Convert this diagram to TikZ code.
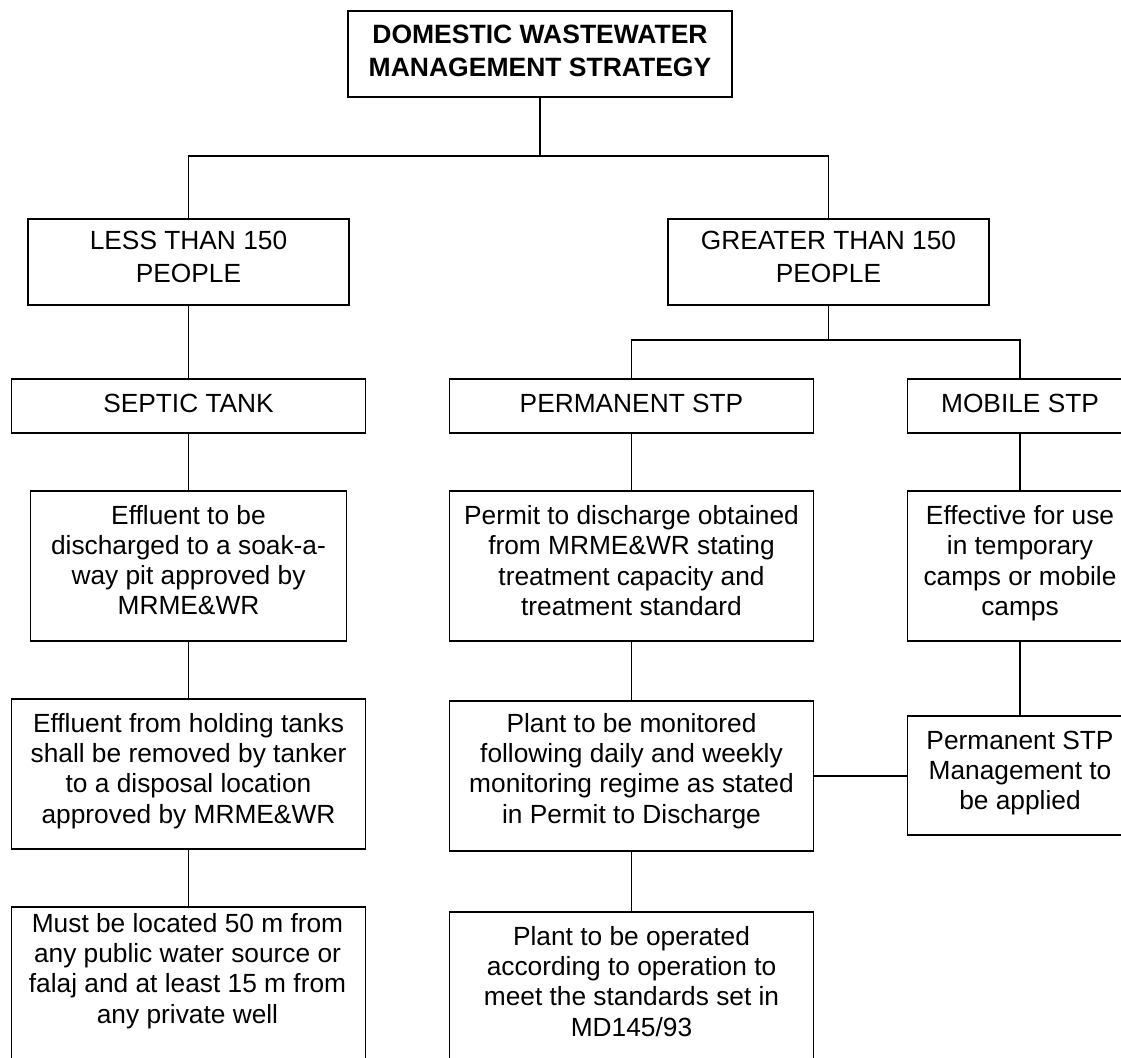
\documentclass[tikz,border=0pt]{standalone}
\usepackage{fontspec}
\setmainfont{Liberation Sans}
\newcommand\txtbody{\fontsize{26.3pt}{30.3pt}\selectfont}
\newcommand\txtcaps{\fontsize{26.3pt}{33.3pt}\selectfont}
\newcommand\txthead{\bfseries\fontsize{26.5pt}{33.6pt}\selectfont}
\tikzset{
  box/.style={draw, line width=1.6pt, inner sep=0pt, align=center,
    execute at begin node=\strut, execute at end node=\strut},
  txt/.style={inner sep=0pt, align=center,
    execute at begin node=\strut, execute at end node=\strut},
  link/.style={line width=1.6pt},
}
\begin{document}
\begin{tikzpicture}[x=1pt, y=-1pt]
  \path[use as bounding box] (0,0) rectangle (1121,1057);
  \clip (0,0) rectangle (1121,1057);

  % title
  \node[box, minimum width=384pt, minimum height=86pt] (title) at (540,54) {};
  \node[txt, font=\txthead] (title-t) at (540,55.8) {DOMESTIC WASTEWATER\\MANAGEMENT STRATEGY};

  % population split
  \node[box, font=\txtcaps, minimum width=321pt, minimum height=86pt] (less) at (188.5,262) {LESS THAN 150\\PEOPLE};
  \node[box, font=\txtcaps, minimum width=321pt, minimum height=86pt] (greater) at (828.5,262) {GREATER THAN 150\\PEOPLE};

  % treatment type
  \node[box, font=\txtbody, minimum width=354pt, minimum height=54pt] (septic) at (188.5,406) {SEPTIC TANK};
  \node[box, font=\txtbody, minimum width=364pt, minimum height=54pt] (perm) at (631.5,406) {PERMANENT STP};
  \node[box, font=\txtbody, minimum width=225pt, minimum height=54pt] (mobile) at (1020,406) {MOBILE STP};

  % first requirements
  \node[box, minimum width=316pt, minimum height=150pt] (effluent) at (188.5,566) {};
  \node[txt, font=\txtbody] (effluent-t) at (188.5,564.5) {Effluent to be\\discharged to a soak-a-\\way pit approved by\\MRME\&WR};
  \node[box, minimum width=364pt, minimum height=150pt] (permit) at (631.5,566) {};
  \node[txt, font=\txtbody] (permit-t) at (631.5,565) {Permit to discharge obtained\\from MRME\&WR stating\\treatment capacity and\\treatment standard};
  \node[box, minimum width=225pt, minimum height=150pt] (effective) at (1020,566) {};
  \node[txt, font=\txtbody] (effective-t) at (1020,565) {Effective for use\\in temporary\\camps or mobile\\camps};

  % second requirements
  \node[box, minimum width=354pt, minimum height=150pt] (holding) at (188.5,774) {};
  \node[txt, font=\txtbody] (holding-t) at (188.5,772.7) {Effluent from holding tanks\\shall be removed by tanker\\to a disposal location\\approved by MRME\&WR};
  \node[box, minimum width=364pt, minimum height=150pt] (monitored) at (631.5,776) {};
  \node[txt, font=\txtbody] (monitored-t) at (631.5,772.7) {Plant to be monitored\\following daily and weekly\\monitoring regime as stated\\in Permit to Discharge};
  \node[box, minimum width=225pt, minimum height=119pt] (mgmt) at (1020,775.5) {};
  \node[txt, font=\txtbody] (mgmt-t) at (1020,774.7) {Permanent STP\\Management to\\be applied};

  % third requirements
  \node[box, minimum width=354pt, minimum height=173pt] (must) at (188.5,993.5) {};
  \node[txt, font=\txtbody] (must-t) at (187.5,972.7) {Must be located 50 m from\\any public water source or\\falaj and at least 15 m from\\any private well};
  \node[box, minimum width=364pt, minimum height=168pt] (operated) at (631.5,996) {};
  \node[txt, font=\txtbody] (operated-t) at (631.5,985.7) {Plant to be operated\\according to operation to\\meet the standards set in\\MD145/93};

  % connectors
  \coordinate (j1) at (540,156);
  \coordinate (j2) at (828.5,340);
  \draw[link] (title.south) -- (j1);
  \draw[link] (less.north) |- (j1) -| (greater.north);
  \draw[link] (greater.south) -- (j2);
  \draw[link] (perm.north) |- (j2) -| (mobile.north);

  \draw[link] (less.south) -- (septic.north);
  \draw[link] (septic.south) -- (effluent.north);
  \draw[link] (effluent.south) -- (holding.north);
  \draw[link] (holding.south) -- (must.north);

  \draw[link] (perm.south) -- (permit.north);
  \draw[link] (permit.south) -- (monitored.north);
  \draw[link] (monitored.south) -- (operated.north);

  \draw[link] (mobile.south) -- (effective.north);
  \draw[link] (effective.south) -- (mgmt.north);
  \draw[link] (monitored.east) -- (monitored.east -| mgmt.west);
\end{tikzpicture}
\end{document}
